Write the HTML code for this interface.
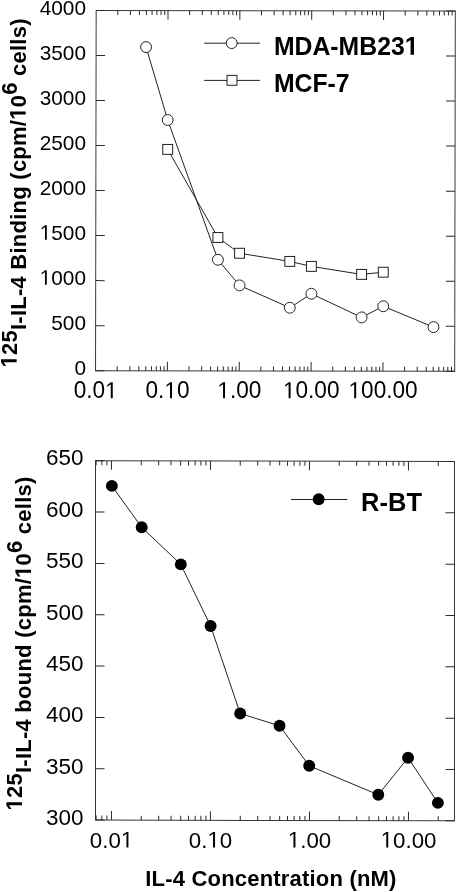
<!DOCTYPE html>
<html><head><meta charset="utf-8"><style>
html,body{margin:0;padding:0;background:#fff;}
svg{display:block;}
svg{will-change:transform;}
text{font-family:"Liberation Sans",sans-serif;fill:#000;font-kerning:none;}
</style></head><body>
<svg width="456" height="892" viewBox="0 0 456 892">
<g transform="rotate(0.1 275.43 190.85)">
<rect x="95.85" y="10.70" width="359.15" height="360.30" fill="none" stroke="#3a3a3a" stroke-width="1.0"/>
<path d="M117.48 371.00V366.50M117.48 10.70V15.20M130.13 371.00V366.50M130.13 10.70V15.20M139.11 371.00V366.50M139.11 10.70V15.20M146.07 371.00V366.50M146.07 10.70V15.20M151.76 371.00V366.50M151.76 10.70V15.20M156.57 371.00V366.50M156.57 10.70V15.20M160.74 371.00V366.50M160.74 10.70V15.20M164.41 371.00V366.50M164.41 10.70V15.20M167.70 371.00V362.00M167.70 10.70V19.70M189.33 371.00V366.50M189.33 10.70V15.20M201.98 371.00V366.50M201.98 10.70V15.20M210.96 371.00V366.50M210.96 10.70V15.20M217.92 371.00V366.50M217.92 10.70V15.20M223.61 371.00V366.50M223.61 10.70V15.20M228.42 371.00V366.50M228.42 10.70V15.20M232.59 371.00V366.50M232.59 10.70V15.20M236.26 371.00V366.50M236.26 10.70V15.20M239.55 371.00V362.00M239.55 10.70V19.70M261.18 371.00V366.50M261.18 10.70V15.20M273.83 371.00V366.50M273.83 10.70V15.20M282.81 371.00V366.50M282.81 10.70V15.20M289.77 371.00V366.50M289.77 10.70V15.20M295.46 371.00V366.50M295.46 10.70V15.20M300.27 371.00V366.50M300.27 10.70V15.20M304.44 371.00V366.50M304.44 10.70V15.20M308.11 371.00V366.50M308.11 10.70V15.20M311.40 371.00V362.00M311.40 10.70V19.70M333.03 371.00V366.50M333.03 10.70V15.20M345.68 371.00V366.50M345.68 10.70V15.20M354.66 371.00V366.50M354.66 10.70V15.20M361.62 371.00V366.50M361.62 10.70V15.20M367.31 371.00V366.50M367.31 10.70V15.20M372.12 371.00V366.50M372.12 10.70V15.20M376.29 371.00V366.50M376.29 10.70V15.20M379.96 371.00V366.50M379.96 10.70V15.20M383.25 371.00V362.00M383.25 10.70V19.70M404.88 371.00V366.50M404.88 10.70V15.20M417.53 371.00V366.50M417.53 10.70V15.20M426.51 371.00V366.50M426.51 10.70V15.20M433.47 371.00V366.50M433.47 10.70V15.20M439.16 371.00V366.50M439.16 10.70V15.20M443.97 371.00V366.50M443.97 10.70V15.20M448.14 371.00V366.50M448.14 10.70V15.20M451.81 371.00V366.50M451.81 10.70V15.20" stroke="#2a2a2a" stroke-width="1.0" fill="none"/>
<path d="M95.85 371.00H104.85M455.00 371.00H446.00M95.85 325.96H104.85M455.00 325.96H446.00M95.85 280.93H104.85M455.00 280.93H446.00M95.85 235.89H104.85M455.00 235.89H446.00M95.85 190.85H104.85M455.00 190.85H446.00M95.85 145.81H104.85M455.00 145.81H446.00M95.85 100.77H104.85M455.00 100.77H446.00M95.85 55.74H104.85M455.00 55.74H446.00M95.85 10.70H104.85M455.00 10.70H446.00" stroke="#2a2a2a" stroke-width="1.0" fill="none"/>
</g>
<g transform="translate(86.00,374.88) scale(1,1.01)"><text y="0" style="font-size:20.8px;" xml:space="preserve"><tspan x="-11.57">0</tspan></text></g>
<g transform="translate(86.00,329.84) scale(1,1.01)"><text y="0" style="font-size:20.8px;" xml:space="preserve"><tspan x="-34.70">500</tspan></text></g>
<g transform="translate(86.00,284.80) scale(1,1.01)"><text y="0" style="font-size:20.8px;" xml:space="preserve"><tspan x="-46.27"> 000</tspan></text><path d="M515 0V1237L197 1010V1180L530 1409H696V0Z" transform="translate(-46.27,0.00) scale(0.010156,-0.010156)"/></g>
<g transform="translate(86.00,239.76) scale(1,1.01)"><text y="0" style="font-size:20.8px;" xml:space="preserve"><tspan x="-46.27"> 500</tspan></text><path d="M515 0V1237L197 1010V1180L530 1409H696V0Z" transform="translate(-46.27,0.00) scale(0.010156,-0.010156)"/></g>
<g transform="translate(86.00,194.73) scale(1,1.01)"><text y="0" style="font-size:20.8px;" xml:space="preserve"><tspan x="-46.27">2000</tspan></text></g>
<g transform="translate(86.00,149.69) scale(1,1.01)"><text y="0" style="font-size:20.8px;" xml:space="preserve"><tspan x="-46.27">2500</tspan></text></g>
<g transform="translate(86.00,104.65) scale(1,1.01)"><text y="0" style="font-size:20.8px;" xml:space="preserve"><tspan x="-46.27">3000</tspan></text></g>
<g transform="translate(86.00,59.61) scale(1,1.01)"><text y="0" style="font-size:20.8px;" xml:space="preserve"><tspan x="-46.27">3500</tspan></text></g>
<g transform="translate(86.00,14.58) scale(1,1.01)"><text y="0" style="font-size:20.8px;" xml:space="preserve"><tspan x="-46.27">4000</tspan></text></g>
<g transform="translate(95.65,398.30) scale(1,1.03)"><text y="0" style="font-size:22.6px;" xml:space="preserve"><tspan x="-21.99">0.0 </tspan></text><path d="M515 0V1237L197 1010V1180L530 1409H696V0Z" transform="translate(9.42,0.00) scale(0.011035,-0.011035)"/></g>
<g transform="translate(167.50,398.30) scale(1,1.03)"><text y="0" style="font-size:22.6px;" xml:space="preserve"><tspan x="-21.99">0. 0</tspan></text><path d="M515 0V1237L197 1010V1180L530 1409H696V0Z" transform="translate(-3.15,0.00) scale(0.011035,-0.011035)"/></g>
<g transform="translate(239.35,398.30) scale(1,1.03)"><text y="0" style="font-size:22.6px;" xml:space="preserve"><tspan x="-21.99"> .00</tspan></text><path d="M515 0V1237L197 1010V1180L530 1409H696V0Z" transform="translate(-21.99,0.00) scale(0.011035,-0.011035)"/></g>
<g transform="translate(311.20,398.30) scale(1,1.03)"><text y="0" style="font-size:22.6px;" xml:space="preserve"><tspan x="-28.28"> 0.00</tspan></text><path d="M515 0V1237L197 1010V1180L530 1409H696V0Z" transform="translate(-28.28,0.00) scale(0.011035,-0.011035)"/></g>
<g transform="translate(383.05,398.30) scale(1,1.03)"><text y="0" style="font-size:22.6px;" xml:space="preserve"><tspan x="-34.56"> 00.00</tspan></text><path d="M515 0V1237L197 1010V1180L530 1409H696V0Z" transform="translate(-34.56,0.00) scale(0.011035,-0.011035)"/></g>
<polyline points="146.07,47.10 167.70,120.00 217.92,259.75 239.55,285.40 289.77,307.75 311.40,293.75 361.62,317.40 383.25,306.25 433.47,327.10" fill="none" stroke="#222" stroke-width="1.0"/>
<polyline points="167.70,149.40 217.92,237.50 239.55,253.25 289.77,261.40 311.40,266.40 361.62,274.40 383.25,272.20" fill="none" stroke="#222" stroke-width="1.0"/>
<circle cx="146.07" cy="47.10" r="5.45" fill="#fff" stroke="#222" stroke-width="1.0"/>
<circle cx="167.70" cy="120.00" r="5.45" fill="#fff" stroke="#222" stroke-width="1.0"/>
<circle cx="217.92" cy="259.75" r="5.45" fill="#fff" stroke="#222" stroke-width="1.0"/>
<circle cx="239.55" cy="285.40" r="5.45" fill="#fff" stroke="#222" stroke-width="1.0"/>
<circle cx="289.77" cy="307.75" r="5.45" fill="#fff" stroke="#222" stroke-width="1.0"/>
<circle cx="311.40" cy="293.75" r="5.45" fill="#fff" stroke="#222" stroke-width="1.0"/>
<circle cx="361.62" cy="317.40" r="5.45" fill="#fff" stroke="#222" stroke-width="1.0"/>
<circle cx="383.25" cy="306.25" r="5.45" fill="#fff" stroke="#222" stroke-width="1.0"/>
<circle cx="433.47" cy="327.10" r="5.45" fill="#fff" stroke="#222" stroke-width="1.0"/>
<rect x="162.75" y="144.45" width="9.9" height="9.9" fill="#fff" stroke="#222" stroke-width="1.0"/>
<rect x="212.97" y="232.55" width="9.9" height="9.9" fill="#fff" stroke="#222" stroke-width="1.0"/>
<rect x="234.60" y="248.30" width="9.9" height="9.9" fill="#fff" stroke="#222" stroke-width="1.0"/>
<rect x="284.82" y="256.45" width="9.9" height="9.9" fill="#fff" stroke="#222" stroke-width="1.0"/>
<rect x="306.45" y="261.45" width="9.9" height="9.9" fill="#fff" stroke="#222" stroke-width="1.0"/>
<rect x="356.67" y="269.45" width="9.9" height="9.9" fill="#fff" stroke="#222" stroke-width="1.0"/>
<rect x="378.30" y="267.25" width="9.9" height="9.9" fill="#fff" stroke="#222" stroke-width="1.0"/>
<path d="M204.2 43.2H260M204.2 80.4H260" stroke="#222" stroke-width="1.0"/>
<circle cx="231.70" cy="43.10" r="5.45" fill="#fff" stroke="#222" stroke-width="1.0"/>
<rect x="227.05" y="75.35" width="9.9" height="9.9" fill="#fff" stroke="#222" stroke-width="1.0"/>
<g transform="translate(273.90,54.80) scale(1,1.045)"><text y="0" style="font-size:24.8px;font-weight:bold;" xml:space="preserve"><tspan x="0.00">MDA-MB23 </tspan></text><path d="M478 0V1170L140 959V1180L493 1409H759V0Z" transform="translate(130.89,0.00) scale(0.012109,-0.012109)"/></g>
<g transform="translate(273.90,91.80) scale(1,1.045)"><text y="0" style="font-size:24.8px;font-weight:bold;" xml:space="preserve"><tspan x="0.00">MCF-7</tspan></text></g>
<g transform="translate(25.70,367.50) rotate(-90) scale(1,1.03)"><text y="0" style="font-size:22px;font-weight:bold;letter-spacing:0.25px;" xml:space="preserve"><tspan x="0.00" dy="-8.80"> 25</tspan><tspan dy="8.80">I-IL-4 Binding (cpm/ 0</tspan><tspan dy="-8.60">6</tspan><tspan dy="8.60"> cells)</tspan></text><path d="M478 0V1170L140 959V1180L493 1409H759V0Z" transform="translate(0.00,-8.80) scale(0.010742,-0.010742)"/><path d="M478 0V1170L140 959V1180L493 1409H759V0Z" transform="translate(247.77,0.00) scale(0.010742,-0.010742)"/></g>
<g transform="matrix(1 0.0022 0 1 0 -0.6050)">
<rect x="95.50" y="461.10" width="359.00" height="359.35" fill="none" stroke="#3a3a3a" stroke-width="1.0"/>
<path d="M96.11 820.45V815.95M96.11 461.10V465.60M101.86 820.45V815.95M101.86 461.10V465.60M106.92 820.45V815.95M106.92 461.10V465.60M111.45 820.45V811.45M111.45 461.10V470.10M141.25 820.45V815.95M141.25 461.10V465.60M158.69 820.45V815.95M158.69 461.10V465.60M171.05 820.45V815.95M171.05 461.10V465.60M180.65 820.45V815.95M180.65 461.10V465.60M188.49 820.45V815.95M188.49 461.10V465.60M195.11 820.45V815.95M195.11 461.10V465.60M200.86 820.45V815.95M200.86 461.10V465.60M205.92 820.45V815.95M205.92 461.10V465.60M210.45 820.45V811.45M210.45 461.10V470.10M240.25 820.45V815.95M240.25 461.10V465.60M257.69 820.45V815.95M257.69 461.10V465.60M270.05 820.45V815.95M270.05 461.10V465.60M279.65 820.45V815.95M279.65 461.10V465.60M287.49 820.45V815.95M287.49 461.10V465.60M294.11 820.45V815.95M294.11 461.10V465.60M299.86 820.45V815.95M299.86 461.10V465.60M304.92 820.45V815.95M304.92 461.10V465.60M309.45 820.45V811.45M309.45 461.10V470.10M339.25 820.45V815.95M339.25 461.10V465.60M356.69 820.45V815.95M356.69 461.10V465.60M369.05 820.45V815.95M369.05 461.10V465.60M378.65 820.45V815.95M378.65 461.10V465.60M386.49 820.45V815.95M386.49 461.10V465.60M393.11 820.45V815.95M393.11 461.10V465.60M398.86 820.45V815.95M398.86 461.10V465.60M403.92 820.45V815.95M403.92 461.10V465.60M408.45 820.45V811.45M408.45 461.10V470.10M438.25 820.45V815.95M438.25 461.10V465.60" stroke="#2a2a2a" stroke-width="1.0" fill="none"/>
<path d="M95.50 820.45H104.50M454.50 820.45H445.50M95.50 769.11H104.50M454.50 769.11H445.50M95.50 717.78H104.50M454.50 717.78H445.50M95.50 666.44H104.50M454.50 666.44H445.50M95.50 615.11H104.50M454.50 615.11H445.50M95.50 563.77H104.50M454.50 563.77H445.50M95.50 512.44H104.50M454.50 512.44H445.50M95.50 461.10H104.50M454.50 461.10H445.50" stroke="#2a2a2a" stroke-width="1.0" fill="none"/>
</g>
<g transform="translate(83.60,824.84) scale(1,1.005)"><text y="0" style="font-size:22.5px;" xml:space="preserve"><tspan x="-37.54">300</tspan></text></g>
<g transform="translate(83.60,773.51) scale(1,1.005)"><text y="0" style="font-size:22.5px;" xml:space="preserve"><tspan x="-37.54">350</tspan></text></g>
<g transform="translate(83.60,722.17) scale(1,1.005)"><text y="0" style="font-size:22.5px;" xml:space="preserve"><tspan x="-37.54">400</tspan></text></g>
<g transform="translate(83.60,670.84) scale(1,1.005)"><text y="0" style="font-size:22.5px;" xml:space="preserve"><tspan x="-37.54">450</tspan></text></g>
<g transform="translate(83.60,619.50) scale(1,1.005)"><text y="0" style="font-size:22.5px;" xml:space="preserve"><tspan x="-37.54">500</tspan></text></g>
<g transform="translate(83.60,568.16) scale(1,1.005)"><text y="0" style="font-size:22.5px;" xml:space="preserve"><tspan x="-37.54">550</tspan></text></g>
<g transform="translate(83.60,516.83) scale(1,1.005)"><text y="0" style="font-size:22.5px;" xml:space="preserve"><tspan x="-37.54">600</tspan></text></g>
<g transform="translate(83.60,465.49) scale(1,1.005)"><text y="0" style="font-size:22.5px;" xml:space="preserve"><tspan x="-37.54">650</tspan></text></g>
<g transform="translate(111.55,847.50) scale(1,1.015)"><text y="0" style="font-size:22.3px;" xml:space="preserve"><tspan x="-21.70">0.0 </tspan></text><path d="M515 0V1237L197 1010V1180L530 1409H696V0Z" transform="translate(9.30,0.00) scale(0.010889,-0.010889)"/></g>
<g transform="translate(210.55,847.50) scale(1,1.015)"><text y="0" style="font-size:22.3px;" xml:space="preserve"><tspan x="-21.70">0. 0</tspan></text><path d="M515 0V1237L197 1010V1180L530 1409H696V0Z" transform="translate(-3.10,0.00) scale(0.010889,-0.010889)"/></g>
<g transform="translate(309.55,847.50) scale(1,1.015)"><text y="0" style="font-size:22.3px;" xml:space="preserve"><tspan x="-21.70"> .00</tspan></text><path d="M515 0V1237L197 1010V1180L530 1409H696V0Z" transform="translate(-21.70,0.00) scale(0.010889,-0.010889)"/></g>
<g transform="translate(408.55,847.50) scale(1,1.015)"><text y="0" style="font-size:22.3px;" xml:space="preserve"><tspan x="-27.90"> 0.00</tspan></text><path d="M515 0V1237L197 1010V1180L530 1409H696V0Z" transform="translate(-27.90,0.00) scale(0.010889,-0.010889)"/></g>
<polyline points="111.85,485.90 141.70,527.30 180.80,564.40 210.60,626.00 240.20,713.50 279.55,725.80 309.20,765.80 378.30,794.80 408.05,757.70 437.90,802.90" fill="none" stroke="#222" stroke-width="1.0"/>
<circle cx="111.85" cy="485.90" r="5.95" fill="#000"/>
<circle cx="141.70" cy="527.30" r="5.95" fill="#000"/>
<circle cx="180.80" cy="564.40" r="5.95" fill="#000"/>
<circle cx="210.60" cy="626.00" r="5.95" fill="#000"/>
<circle cx="240.20" cy="713.50" r="5.95" fill="#000"/>
<circle cx="279.55" cy="725.80" r="5.95" fill="#000"/>
<circle cx="309.20" cy="765.80" r="5.95" fill="#000"/>
<circle cx="378.30" cy="794.80" r="5.95" fill="#000"/>
<circle cx="408.05" cy="757.70" r="5.95" fill="#000"/>
<circle cx="437.90" cy="802.90" r="5.95" fill="#000"/>
<path d="M291 499.5H347.3" stroke="#222" stroke-width="1.0"/>
<circle cx="318.70" cy="499.30" r="5.95" fill="#000"/>
<g transform="translate(361.10,511.00) scale(1,1.01)"><text y="0" style="font-size:25.5px;font-weight:bold;" xml:space="preserve"><tspan x="0.00">R-BT</tspan></text></g>
<g transform="translate(31.00,810.50) rotate(-90) scale(1,1.03)"><text y="0" style="font-size:22px;font-weight:bold;letter-spacing:0.25px;" xml:space="preserve"><tspan x="0.00" dy="-8.80"> 25</tspan><tspan dy="8.80">I-IL-4 bound (cpm/ 0</tspan><tspan dy="-8.60">6</tspan><tspan dy="8.60"> cells)</tspan></text><path d="M478 0V1170L140 959V1180L493 1409H759V0Z" transform="translate(0.00,-8.80) scale(0.010742,-0.010742)"/><path d="M478 0V1170L140 959V1180L493 1409H759V0Z" transform="translate(232.60,0.00) scale(0.010742,-0.010742)"/></g>
<g transform="translate(145.20,886.00) scale(1,1.03)"><text y="0" style="font-size:22px;font-weight:bold;letter-spacing:0.2px;" xml:space="preserve"><tspan x="0.00">IL-4 Concentration (nM)</tspan></text></g>
</svg>
</body></html>
